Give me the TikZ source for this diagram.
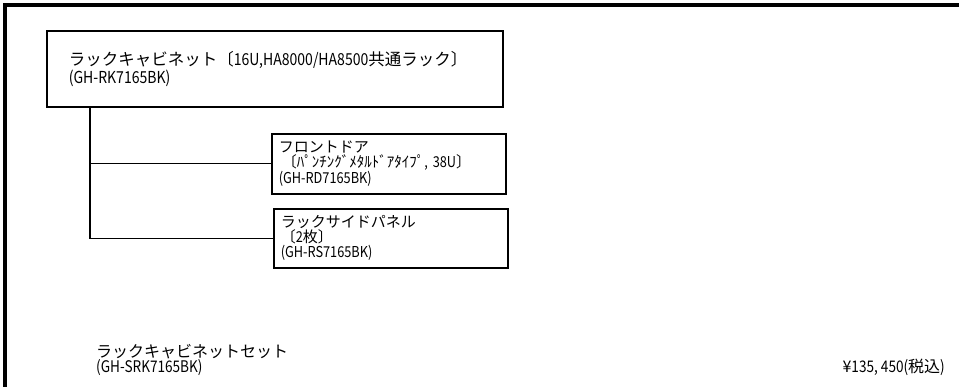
\documentclass[tikz,border=0pt]{standalone}
\usepackage{fontspec}
\setmainfont{Noto Sans CJK JP}
\newfontfamily\hwlatin[FakeStretch=0.85]{Noto Sans CJK JP}
\newcommand\hw[1]{{\hwlatin #1}}
\begin{document}
\begin{tikzpicture}[x=1pt,y=-1pt,
  box/.style={draw, line width=1.6pt, anchor=north west, inner xsep=7pt, inner ysep=0pt,
    align=left, font=\fontsize{15}{15}\selectfont},
  plain/.style={inner sep=0pt, align=left, font=\fontsize{16}{15}\selectfont},
  conn/.style={line width=1.2pt}]
\useasboundingbox (0,0) rectangle (959,387);
\fill[white] (0,0) rectangle (959,387);
\draw[line width=4pt] (4.5,400) -- (4.5,5) -- (970,5);

\node[box, inner xsep=22pt, minimum width=456pt, minimum height=76pt, text width=412pt,
  font=\fontsize{16.5}{15}\selectfont] (main) at (46,30)
  {ラックキャビネット〔\hw{16U,HA8000/HA8500}共通ラック〕\\\hw{(GH-RK7165BK)}};
\node[box, minimum width=234pt, minimum height=60pt, text width=220pt] (door) at (271,133)
  {フロントドア\\\hspace*{3pt}〔ﾊﾟﾝﾁﾝｸﾞﾒﾀﾙﾄﾞｱﾀｲﾌﾟ\hw{, 38U}〕\\\hw{(GH-RD7165BK)}};
\node[box, minimum width=234pt, minimum height=59pt, text width=220pt] (side) at (273,208)
  {ラックサイドパネル\\〔\hw{2}枚〕\\\hw{(GH-RS7165BK)}};

\coordinate (trunk) at (90,0);
\draw[conn] (trunk |- main.south) -- (trunk |- side.west) -- (side.west);
\draw[conn] (trunk |- door.west) -- (door.west);

\node[plain, anchor=west] (set) at (96,359.5) {ラックキャビネットセット\\\hw{(GH-SRK7165BK)}};
\node[plain, anchor=east] (price) at (945,367) {¥\hw{135, 450(}税込\hw{)}};
\end{tikzpicture}
\end{document}
